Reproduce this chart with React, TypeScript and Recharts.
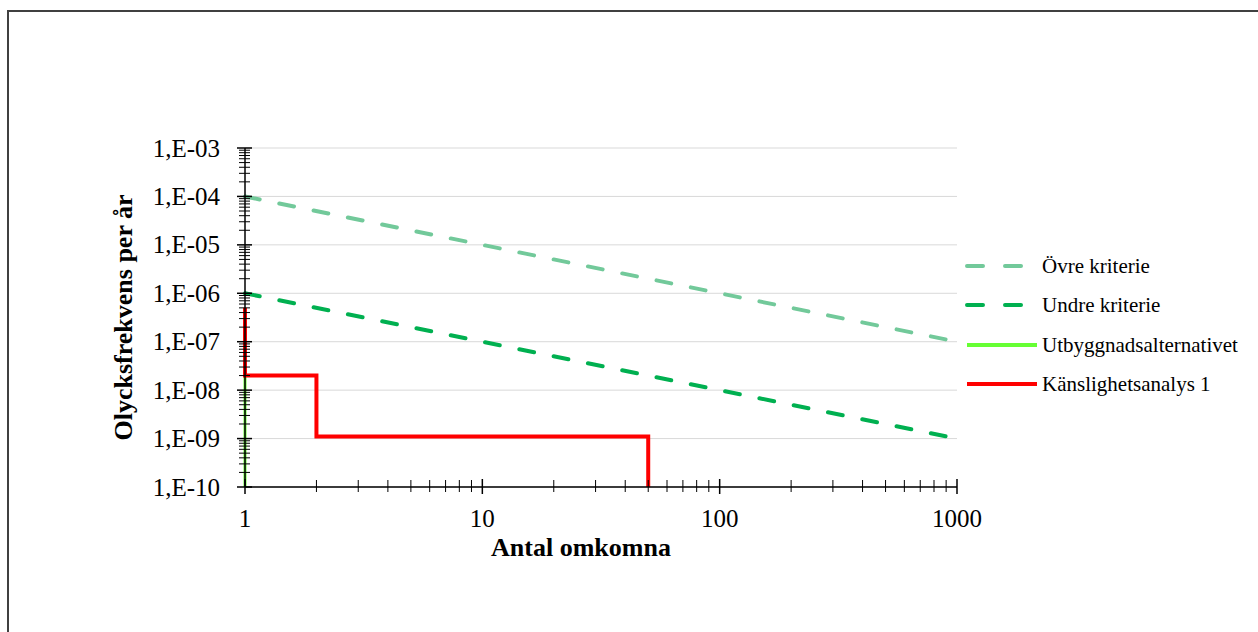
import { LineChart, Line, XAxis, YAxis, CartesianGrid, Label } from 'recharts'

// Kriterielinjer (F/N-kurvor)
const ovreKriterie = [
  { x: 1, y: 1e-4 },
  { x: 1000, y: 1e-7 }
]
const undreKriterie = [
  { x: 1, y: 1e-6 },
  { x: 1000, y: 1e-9 }
]

// Samhällsrisk
const utbyggnad = [
  { x: 1, y: 1e-10 },
  { x: 1, y: 2e-8 }
]
const kanslighet1 = [
  { x: 1, y: 5e-7 },
  { x: 1, y: 2e-8 },
  { x: 2, y: 2e-8 },
  { x: 2, y: 1.1e-9 },
  { x: 50, y: 1.1e-9 },
  { x: 50, y: 1e-10 }
]

const xDecades = [1, 10, 100, 1000]
const yDecades = [1e-10, 1e-9, 1e-8, 1e-7, 1e-6, 1e-5, 1e-4, 1e-3]
const minorSteps = [2, 3, 4, 5, 6, 7, 8, 9]

const xTicks: number[] = []
xDecades.forEach((d, i) => {
  xTicks.push(d)
  if (i < xDecades.length - 1) minorSteps.forEach(m => xTicks.push(d * m))
})
const yTicks: number[] = []
yDecades.forEach((d, i) => {
  yTicks.push(d)
  if (i < yDecades.length - 1) minorSteps.forEach(m => yTicks.push(d * m))
})

const legendItems = [
  { name: 'Övre kriterie', color: '#72c99a', dashed: true },
  { name: 'Undre kriterie', color: '#00b050', dashed: true },
  { name: 'Utbyggnadsalternativet', color: '#66ff33', dashed: false },
  { name: 'Känslighetsanalys 1', color: '#ff0000', dashed: false }
]

const FONT = '"Liberation Serif", "Times New Roman", serif'

const isDecade = (v: number) => Math.abs(Math.log10(v) - Math.round(Math.log10(v))) < 1e-6

function formatY(v: number) {
  const e = Math.round(Math.log10(v))
  const abs = Math.abs(e)
  return `1,E${e < 0 ? '-' : '+'}${abs < 10 ? '0' + abs : abs}`
}

function YTick(props: any) {
  const { x, y, payload } = props
  const major = isDecade(payload.value)
  return (
    <g>
      <line x1={x - (major ? 8 : 6)} x2={x + (major ? 7 : 5)} y1={y} y2={y} stroke="#000" strokeWidth={major ? 1.5 : 1} />
      {major && (
        <text x={x - 25} y={y} textAnchor="end" dominantBaseline="central" fontSize={25} fontFamily={FONT} fill="#000">
          {formatY(payload.value)}
        </text>
      )}
    </g>
  )
}

function XTick(props: any) {
  const { x, y, payload } = props
  const major = isDecade(payload.value)
  return (
    <g>
      <line x1={x} x2={x} y1={y - (major ? 8 : 7)} y2={y + (major ? 7 : 5)} stroke="#000" strokeWidth={major ? 1.5 : 1} />
      {major && (
        <text x={x} y={y + 31} textAnchor="middle" dominantBaseline="central" fontSize={25} fontFamily={FONT} fill="#000">
          {payload.value}
        </text>
      )}
    </g>
  )
}

function FNLegend() {
  const tops = [266, 305, 345, 384]
  return (
    <>
      {legendItems.map((item, i) => (
        <div key={item.name} style={{ position: 'absolute', left: 963, top: tops[i] - 14, height: 28, display: 'flex', alignItems: 'center' }}>
          <svg width={79} height={28}>
            <line
              x1={4} x2={item.dashed ? 62 : 74} y1={14} y2={14}
              stroke={item.color} strokeWidth={4}
              strokeDasharray={item.dashed ? '16 22' : undefined}
              strokeLinecap={item.dashed ? 'round' : 'butt'}
            />
          </svg>
          <span style={{ fontFamily: FONT, fontSize: 21, color: '#000', whiteSpace: 'nowrap' }}>{item.name}</span>
        </div>
      ))}
    </>
  )
}

export default function App() {
  return (
    <div style={{ position: 'fixed', left: 0, top: 0, width: 1258, height: 632, overflow: 'hidden', background: '#fff' }}>
      <div style={{ position: 'absolute', left: 7, top: 10, width: 1300, height: 700, border: '2px solid #404040' }} />
      <LineChart width={1258} height={632} margin={{ top: 148, right: 301, bottom: 115, left: 145 }}>
        <CartesianGrid horizontalValues={yDecades} vertical={false} stroke="#d9d9d9" strokeWidth={1} />
        <XAxis
          type="number"
          dataKey="x"
          scale="log"
          domain={[1, 1000]}
          ticks={xTicks}
          interval={0}
          tick={<XTick />}
          tickSize={0}
          tickMargin={0}
          height={30}
          axisLine={{ stroke: '#000', strokeWidth: 1.5 }}
        >
          <Label value="Antal omkomna" position="bottom" dx={-20} dy={16} style={{ fontFamily: FONT, fontSize: 26, fontWeight: 'bold', fill: '#000' }} />
        </XAxis>
        <YAxis
          type="number"
          dataKey="y"
          scale="log"
          domain={[1e-10, 1e-3]}
          ticks={yTicks}
          interval={0}
          tick={<YTick />}
          tickSize={0}
          tickMargin={0}
          width={100}
          axisLine={{ stroke: '#000', strokeWidth: 1.5 }}
        >
          <Label
            value="Olycksfrekvens per år"
            angle={-90}
            position="center"
            dx={-72}
            style={{ fontFamily: FONT, fontSize: 26, fontWeight: 'bold', fill: '#000', textAnchor: 'middle' }}
          />
        </YAxis>
        <Line data={ovreKriterie} dataKey="y" type="linear" stroke="#72c99a" strokeWidth={4} strokeDasharray="15 20" strokeLinecap="round" dot={false} isAnimationActive={false} />
        <Line data={undreKriterie} dataKey="y" type="linear" stroke="#00b050" strokeWidth={4} strokeDasharray="15 20" strokeLinecap="round" dot={false} isAnimationActive={false} />
        <Line data={utbyggnad} dataKey="y" type="linear" stroke="#66ff33" strokeWidth={3} dot={false} isAnimationActive={false} />
        <Line data={kanslighet1} dataKey="y" type="linear" stroke="#ff0000" strokeWidth={4} dot={false} isAnimationActive={false} />
      </LineChart>
      <FNLegend />
    </div>
  )
}
